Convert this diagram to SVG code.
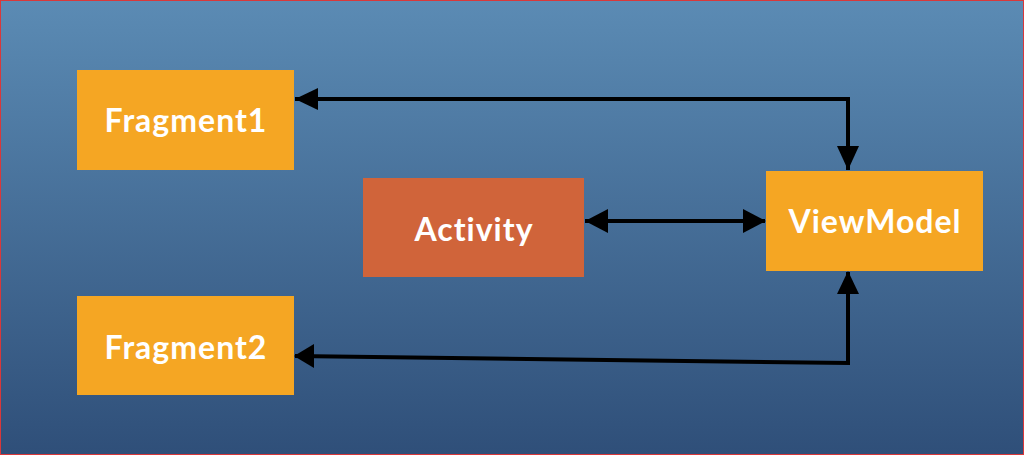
<svg xmlns="http://www.w3.org/2000/svg" width="1024" height="455" viewBox="0 0 1024 455">
  <defs>
    <linearGradient id="bg" x1="0" y1="0" x2="0" y2="1">
      <stop offset="0" stop-color="#5b8bb4"/>
      <stop offset="1" stop-color="#2f4f79"/>
    </linearGradient>
    <style>
      .box{fill:#f5a623;}
      .act{fill:#d0643a;}
      .lbl{font-family:"Lato","Open Sans",sans-serif;font-weight:bold;font-size:32px;letter-spacing:1px;fill:#ffffff;text-anchor:middle;}
      .con{fill:none;stroke:#000;stroke-width:4;}
      .head{fill:#000;}
    </style>
  </defs>
  <rect x="0.5" y="0.5" width="1023" height="454" fill="url(#bg)" stroke="#d9383a" stroke-width="1"/>
  <g id="connectors">
    <path class="con" d="M848,170 L848,99 L295,99"/>
    <path class="head" d="M295,99 L318,88 L318,110 Z"/>
    <path class="head" d="M848,170 L837,146 L859,146 Z"/>
    <path class="con" d="M585,221 L765,221"/>
    <path class="head" d="M585,221 L608,209 L608,233 Z"/>
    <path class="head" d="M766,221 L743,209 L743,233 Z"/>
    <path class="con" d="M848,272 L848,363 L295,356"/>
    <path class="head" d="M848,271 L837,294 L859,294 Z"/>
    <path class="head" d="M294,356 L314,344 L314,368 Z"/>
  </g>
  <g id="fragment1">
    <rect class="box" x="77" y="70" width="217" height="100"/>
    <text class="lbl" x="186" y="132">Fragment1</text>
  </g>
  <g id="fragment2">
    <rect class="box" x="77" y="296" width="217" height="99"/>
    <text class="lbl" x="186" y="359">Fragment2</text>
  </g>
  <g id="activity">
    <rect class="act" x="363" y="178" width="221" height="99"/>
    <text class="lbl" x="474" y="241">Activity</text>
  </g>
  <g id="viewmodel">
    <rect class="box" x="766" y="171" width="217" height="100"/>
    <text class="lbl" x="875" y="233">ViewModel</text>
  </g>
</svg>
